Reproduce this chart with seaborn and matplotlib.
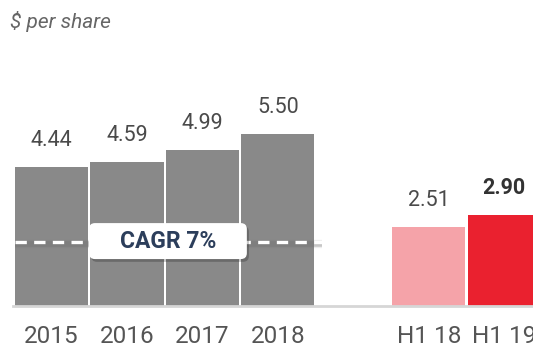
import numpy as np
import pandas as pd
import matplotlib
matplotlib.use("Agg")
import matplotlib.pyplot as plt
import matplotlib.patheffects as pe
from matplotlib.patches import FancyBboxPatch
import seaborn as sns

# Earnings per share, annual and half-year
periods = ["2015", "2016", "2017", "2018", " ", "H1 18", "H1 19"]
eps = [4.44, 4.59, 4.99, 5.50, np.nan, 2.51, 2.90]
bar_colors = ["#898989", "#898989", "#898989", "#898989", "#ffffff", "#f5a3a9", "#ea212f"]
cagr_label = "CAGR 7%"
cagr_level = 2.06
unit_label = "$ per share"

sns.set_theme(style="white")
plt.rcParams["font.family"] = ["Roboto", "DejaVu Sans"]

df = pd.DataFrame({"period": periods, "eps": eps})

fig = plt.figure(figsize=(5.33, 3.48), dpi=100)
ax = fig.add_axes([13 / 533, 42 / 348, 532 / 533, 219 / 348])

sns.barplot(data=df.dropna(), x="period", y="eps", hue="period", order=periods,
            palette=dict(zip(periods, bar_colors)), legend=False, width=0.97,
            saturation=1, ax=ax, edgecolor="none")

ax.set_xlim(-0.51, 6.54)
ax.set_ylim(0, 7.0)
ax.set_xlabel("")
ax.set_ylabel("")
ax.set_yticks([])
for s in ["top", "right", "left"]:
    ax.spines[s].set_visible(False)
ax.spines["bottom"].set_color("#d6d6d6")
ax.spines["bottom"].set_linewidth(2)
ax.tick_params(axis="x", length=0, pad=14, labelsize=17.5, labelcolor="#555555")

# value labels
for i, v in enumerate(eps):
    if np.isnan(v):
        continue
    last = i == len(eps) - 1
    ax.text(i, v + 0.52, f"{v:.2f}", ha="center", va="bottom",
            fontsize=15.5, color="#333333" if last else "#4a4a4a",
            fontweight="bold" if last else "normal")

# growth line across the annual bars
ax.plot([-0.49, 3.58], [cagr_level - 0.07, cagr_level - 0.07], color="#6f6f6f",
        lw=4, alpha=0.3, solid_capstyle="butt", zorder=3,
        path_effects=[pe.Stroke(linewidth=6, foreground="#6f6f6f", alpha=0.12), pe.Normal()])
ax.plot([-0.49, 3.58], [cagr_level, cagr_level], color="white", lw=2.4,
        linestyle=(0, (3.4, 2.2)), zorder=4)

# rounded label box, sized in data units around the growth line
box_x0, box_x1 = 0.497, 2.589
box_y0, box_y1 = cagr_level - 0.56, cagr_level + 0.59
(px0, py0) = ax.transData.transform((box_x0, box_y0))
(px1, py1) = ax.transData.transform((box_x1, box_y1))
box = FancyBboxPatch((px0, py0), px1 - px0, py1 - py0,
                     boxstyle="round,pad=0,rounding_size=6", transform=None,
                     fc="white", ec="none", zorder=5,
                     path_effects=[pe.withSimplePatchShadow(offset=(1.5, -2), shadow_rgbFace="#000000", alpha=0.22)])
ax.add_artist(box)
ax.text((box_x0 + box_x1) / 2, cagr_level, cagr_label, ha="center", va="center",
        fontsize=16.5, fontweight="bold", color="#2c3e5b", zorder=6)

fig.text(10 / 533, 1 - 21 / 348, unit_label, ha="left", va="center",
         fontsize=15, style="italic", color="#666666")

fig.savefig("out.png", dpi=100)
